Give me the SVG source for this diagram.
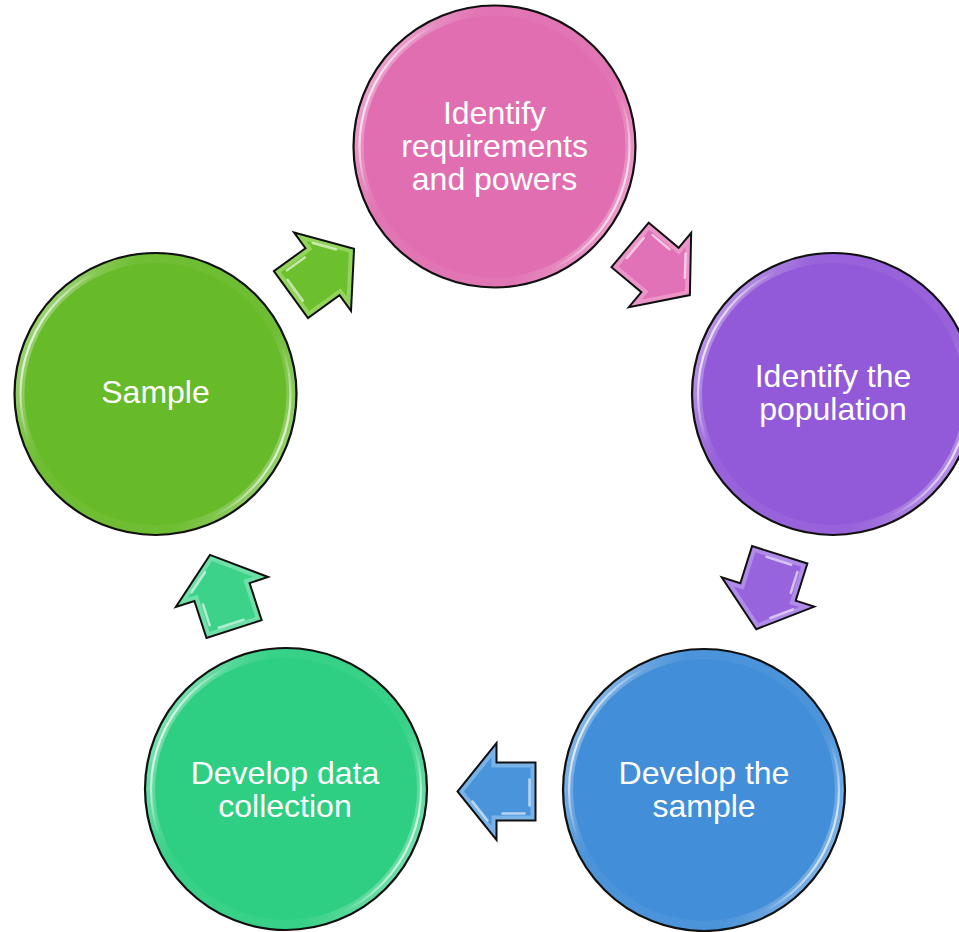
<svg xmlns="http://www.w3.org/2000/svg" width="959" height="932" viewBox="0 0 959 932">
  <style>
    .lbl { font-family: "Liberation Sans", Arial, sans-serif; font-size: 32px; fill: #ffffff; text-anchor: middle; }
    .edge { fill: none; stroke: #111111; stroke-width: 2.2; }
    .band { fill: none; stroke: url(#bandGrad); stroke-width: 9; }
    .shine { fill: none; stroke: url(#shineGrad); stroke-width: 2.2; }
    .aout { stroke: #111111; stroke-width: 2; stroke-linejoin: miter; }
    .ain { stroke: none; }
    .ahi { fill: none; stroke: #ffffff; stroke-width: 2.5; stroke-linecap: round; opacity: 0.6; }
  </style>
  <defs>
    <linearGradient id="bandGrad" x1="0" y1="0.25" x2="1" y2="0.75">
      <stop offset="0" stop-color="#ffffff" stop-opacity="0.4"/>
      <stop offset="0.25" stop-color="#ffffff" stop-opacity="0.05"/>
      <stop offset="0.75" stop-color="#ffffff" stop-opacity="0.05"/>
      <stop offset="1" stop-color="#ffffff" stop-opacity="0.35"/>
    </linearGradient>
    <linearGradient id="shineGrad" x1="0" y1="0.3" x2="1" y2="0.7">
      <stop offset="0" stop-color="#ffffff" stop-opacity="0.95"/>
      <stop offset="0.16" stop-color="#ffffff" stop-opacity="0"/>
      <stop offset="0.84" stop-color="#ffffff" stop-opacity="0"/>
      <stop offset="1" stop-color="#ffffff" stop-opacity="0.9"/>
    </linearGradient>
    <path id="arrowOuter" d="M-39,-29 L0,-29 L0,-48.5 L39,0 L0,48.5 L0,29 L-39,29 Z"/>
    <path id="arrowInner" d="M-34,-24 L5,-24 L5,-34.3 L32.6,0 L5,34.3 L5,24 L-34,24 Z"/>
    <g id="arrowHi">
      <path class="ahi" d="M-28,-22 L-6,-22"/>
      <path class="ahi" d="M9,-29 L24,-10"/>
      <path class="ahi" d="M-33,-14 L-33,12" opacity="0.35"/>
    </g>
  </defs>

  <g id="connectors">
    <g id="arrow-pink" transform="translate(660,270) rotate(40)">
      <use href="#arrowOuter" class="aout" fill="#EB95C9"/>
      <use href="#arrowInner" class="ain" fill="#E272B8"/>
      <use href="#arrowHi"/>
    </g>
    <g id="arrow-purple" transform="translate(768,592) rotate(107.5)">
      <use href="#arrowOuter" class="aout" fill="#B08BEA"/>
      <use href="#arrowInner" class="ain" fill="#9864DE"/>
      <use href="#arrowHi"/>
    </g>
    <g id="arrow-blue" transform="translate(496.5,791.5) rotate(180)">
      <use href="#arrowOuter" class="aout" fill="#78B2E8"/>
      <use href="#arrowInner" class="ain" fill="#4A94DB"/>
      <use href="#arrowHi"/>
    </g>
    <g id="arrow-teal" transform="translate(222,592) rotate(-108)">
      <use href="#arrowOuter" class="aout" fill="#6EE0A8"/>
      <use href="#arrowInner" class="ain" fill="#3CD28A"/>
      <use href="#arrowHi"/>
    </g>
    <g id="arrow-lime" transform="translate(322.5,271.7) rotate(-36)">
      <use href="#arrowOuter" class="aout" fill="#93D45A"/>
      <use href="#arrowInner" class="ain" fill="#6CC02E"/>
      <use href="#arrowHi"/>
    </g>
  </g>

  <g id="node-requirements">
    <circle cx="494.5" cy="146.5" r="141" fill="#E06EB0"/>
    <circle cx="494.5" cy="146.5" r="135.5" class="band"/>
    <circle cx="494.5" cy="146.5" r="135" class="shine"/>
    <circle cx="494.5" cy="146.5" r="141" class="edge"/>
    <text class="lbl" x="494.5" y="124">Identify</text>
    <text class="lbl" x="494.5" y="157">requirements</text>
    <text class="lbl" x="494.5" y="189.5">and powers</text>
  </g>

  <g id="node-population">
    <circle cx="833" cy="394" r="141" fill="#925AD8"/>
    <circle cx="833" cy="394" r="135.5" class="band"/>
    <circle cx="833" cy="394" r="135" class="shine"/>
    <circle cx="833" cy="394" r="141" class="edge"/>
    <text class="lbl" x="833" y="387">Identify the</text>
    <text class="lbl" x="833" y="419.5">population</text>
  </g>

  <g id="node-develop-sample">
    <circle cx="704" cy="790" r="141" fill="#428ED8"/>
    <circle cx="704" cy="790" r="135.5" class="band"/>
    <circle cx="704" cy="790" r="135" class="shine"/>
    <circle cx="704" cy="790" r="141" class="edge"/>
    <text class="lbl" x="704" y="784">Develop the</text>
    <text class="lbl" x="704" y="817">sample</text>
  </g>

  <g id="node-data-collection">
    <circle cx="286" cy="789" r="141" fill="#2ECF82"/>
    <circle cx="286" cy="789" r="135.5" class="band"/>
    <circle cx="286" cy="789" r="135" class="shine"/>
    <circle cx="286" cy="789" r="141" class="edge"/>
    <text class="lbl" x="285" y="784">Develop data</text>
    <text class="lbl" x="285" y="817">collection</text>
  </g>

  <g id="node-sample">
    <circle cx="155.5" cy="394" r="141" fill="#67BA28"/>
    <circle cx="155.5" cy="394" r="135.5" class="band"/>
    <circle cx="155.5" cy="394" r="135" class="shine"/>
    <circle cx="155.5" cy="394" r="141" class="edge"/>
    <text class="lbl" x="155.5" y="403">Sample</text>
  </g>
</svg>
